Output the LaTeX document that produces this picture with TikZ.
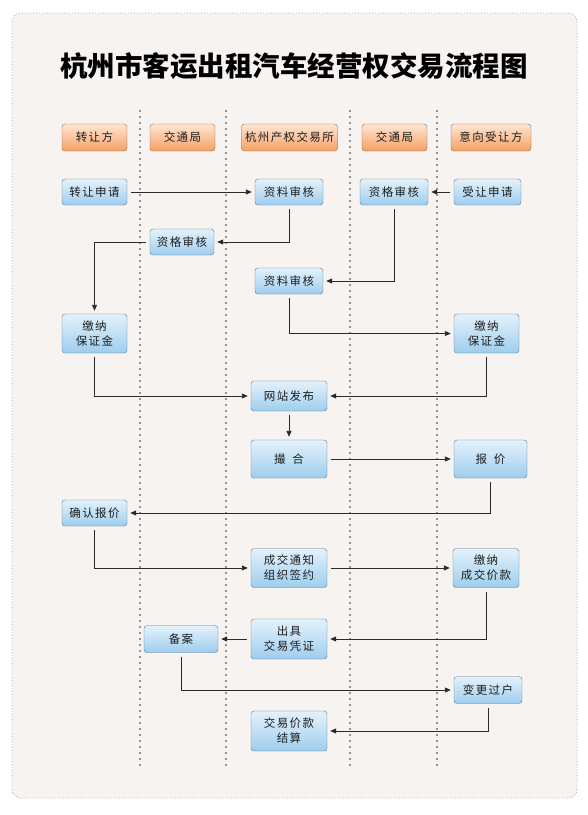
\documentclass[tikz,border=0pt]{standalone}
\usepackage{fontspec}
\setmainfont{Noto Sans CJK SC}
\newfontfamily\boxfont[LetterSpace=12]{Noto Sans CJK SC}
\usepackage{xcolor}
\usepackage{tikz}
\usetikzlibrary{arrows.meta}

\definecolor{paper}{HTML}{F6F3F1}
\definecolor{frameline}{HTML}{A3A3A3}
\definecolor{headtop}{HTML}{FFE6D2}
\definecolor{headbot}{HTML}{F4A065}
\definecolor{headline}{HTML}{8A6A55}
\definecolor{steptop}{HTML}{E4F2FB}
\definecolor{stepbot}{HTML}{9ECDEE}
\definecolor{stepline}{HTML}{5A7890}
\definecolor{arrowc}{HTML}{2A2A2A}
\definecolor{textc}{HTML}{1E1E1E}

\begin{document}
\begin{tikzpicture}[x=1pt, y=-1pt,
        headbox/.style={draw=headline, rounded corners=3pt, top color=headtop, bottom color=headbot, minimum height=27pt, inner sep=2pt, text=textc, font=\boxfont\fontsize{11.5}{13}\selectfont},
        stepbox/.style={draw=stepline, rounded corners=3pt, top color=steptop, bottom color=stepbot, minimum height=26pt, inner sep=2pt, align=center, text=textc, font=\boxfont\fontsize{11.5}{15}\selectfont},
        flow/.style={-{Triangle[length=6pt,width=5pt]}, draw=arrowc, line width=0.9pt, shorten <=4pt, shorten >=3pt},
        lane/.style={draw=gray!85, line width=1.2pt, dash pattern=on 2pt off 4pt}]
        \useasboundingbox (0,0) rectangle (588,815);
        \fill[white] (0,0) rectangle (588,815);
        \draw[frameline, dotted, line width=0.8pt, fill=paper, rounded corners=9pt] (12,13) rectangle (577,798);

        \node[font=\bfseries\fontsize{27.5}{30}\selectfont] (title) at (294,66) {杭州市客运出租汽车经营权交易流程图};

        \draw[lane] (140,110) -- (140,767);
        \draw[lane] (226,110) -- (226,767);
        \draw[lane] (350,110) -- (350,767);
        \draw[lane] (437,110) -- (437,767);

        \node[headbox, minimum width=65pt] (zrf) at (94.5,137.5) {转让方};
        \node[headbox, minimum width=65pt] (jtj1) at (182.5,137.5) {交通局};
        \node[headbox, minimum width=96pt] (cqjys) at (289.5,137.5) {杭州产权交易所};
        \node[headbox, minimum width=65pt] (jtj2) at (394.5,137.5) {交通局};
        \node[headbox, minimum width=80pt] (yxsrf) at (491,137.5) {意向受让方};

        \node[stepbox, minimum width=65pt] (zrsq) at (94.5,192) {转让申请};
        \node[stepbox, minimum width=68pt] (zlsh1) at (289,192) {资料审核};
        \node[stepbox, minimum width=68pt] (zgsh2) at (394,192) {资格审核};
        \node[stepbox, minimum width=67pt] (srsq) at (487.5,192) {受让申请};
        \node[stepbox, minimum width=64pt] (zgsh1) at (182,242) {资格审核};
        \node[stepbox, minimum width=68pt] (zlsh2) at (289,281) {资料审核};
        \node[stepbox, minimum width=65pt, minimum height=39pt] (bzj1) at (94.5,333.5) {缴纳\\保证金};
        \node[stepbox, minimum width=65pt, minimum height=39pt] (bzj2) at (486.5,333.5) {缴纳\\保证金};
        \node[stepbox, minimum width=76pt, minimum height=30pt] (wzfb) at (289,396) {网站发布};
        \node[stepbox, minimum width=76pt, minimum height=38pt] (cuohe) at (289,459) {撮\hspace{0.6em}合};
        \node[stepbox, minimum width=73pt, minimum height=38pt] (baojia) at (490.5,459) {报\hspace{0.6em}价};
        \node[stepbox, minimum width=65pt] (qrbj) at (94.5,513) {确认报价};
        \node[stepbox, minimum width=76pt, minimum height=39pt] (cjtz) at (289,568) {成交通知\\组织签约};
        \node[stepbox, minimum width=66pt, minimum height=39pt] (jnjk) at (486,568) {缴纳\\成交价款};
        \node[stepbox, minimum width=74pt, minimum height=27pt] (beian) at (181,639) {备案};
        \node[stepbox, minimum width=76pt, minimum height=40pt] (cjpz) at (289,639) {出具\\交易凭证};
        \node[stepbox, minimum width=68pt, minimum height=27pt] (bggh) at (488,690) {变更过户};
        \node[stepbox, minimum width=76pt, minimum height=40pt] (jkjs) at (289,731) {交易价款\\结算};

        \draw[flow] (zrsq) -- (zlsh1);
        \draw[flow] (zlsh1) |- (zgsh1);
        \draw[flow] (srsq) -- (zgsh2);
        \draw[flow] (zgsh2) |- (zlsh2);
        \draw[flow] (zgsh1) -| (bzj1);
        \draw[flow] (zlsh2) |- (bzj2);
        \draw[flow] (bzj1) |- (wzfb);
        \draw[flow] (bzj2) |- (wzfb);
        \draw[flow] (wzfb) -- (cuohe);
        \draw[flow] (cuohe) -- (baojia);
        \draw[flow] (baojia) |- (qrbj);
        \draw[flow] (qrbj) |- (cjtz);
        \draw[flow] (cjtz) -- (jnjk);
        \draw[flow] (jnjk) |- (cjpz);
        \draw[flow] (cjpz) -- (beian);
        \draw[flow] (beian) |- (bggh);
        \draw[flow] (bggh) |- (jkjs);
    \end{tikzpicture}
\end{document}
